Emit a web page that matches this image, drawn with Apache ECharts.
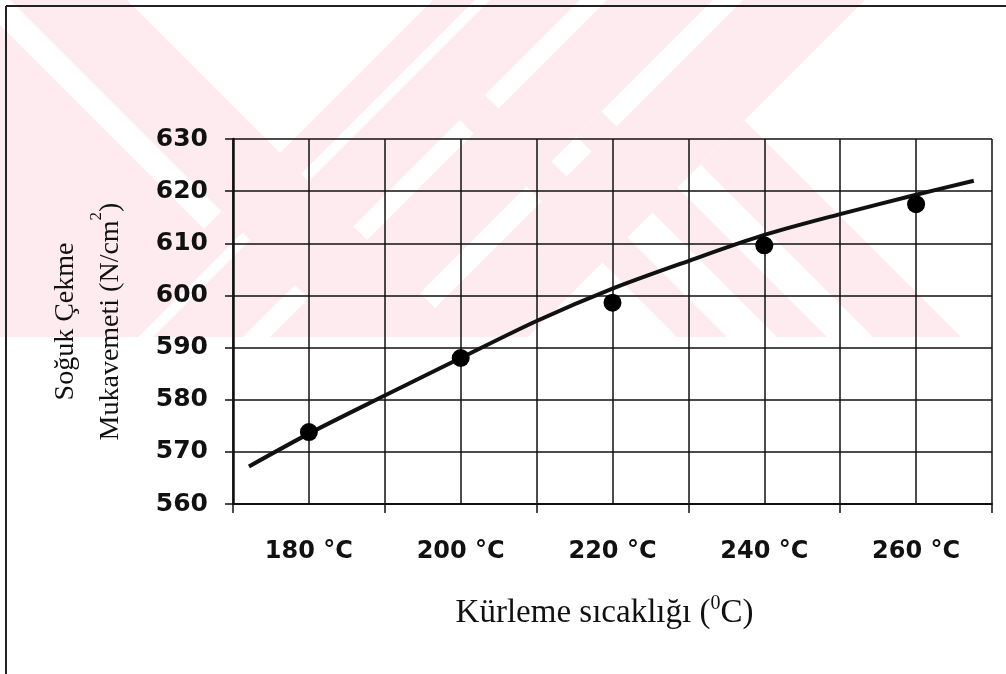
<!DOCTYPE html>
<html>
<head>
<meta charset="utf-8">
<script src="https://cdn.jsdelivr.net/npm/echarts@6/dist/echarts.min.js"></script>
<style>
  html, body { margin: 0; padding: 0; background: #ffffff; }
  #chart { width: 1006px; height: 674px; }
</style>
</head>
<body>
<div id="chart"></div>
<script>
// Curing temperature (°C) and measured cold tensile strength (N/cm²)
const temperatures = [180, 200, 220, 240, 260];
const temperatureLabels = ['180 °C', '200 °C', '220 °C', '240 °C', '260 °C'];
const strength = [573.8, 588.0, 598.6, 609.6, 617.5];

// Trend curve through the measurements
const trendTemps = [172.1, 180, 190, 200, 210, 220, 230, 240, 250, 260, 267.6];
const trendStrength = [567.2, 573.5, 580.8, 588.0, 595.1, 601.3, 606.6, 611.6, 615.6, 619.3, 622.0];

// Strength axis ticks
const yMin = 560, yMax = 630, yStep = 10;
// Temperature scale behind the category labels (one grid cell = 10 °C)
const xMin = 170, xMax = 270, xStep = 10;

const W = 1006, H = 674;
const wmBottom = 337;
const pink = '#fdebef';

// Clip the rectangle [0,W]x[0,wmBottom] by a list of half-planes on x+y or x-y
function clipRegion(limits) {
  let poly = [[0, 0], [W, 0], [W, wmBottom], [0, wmBottom]];
  const fu = (p) => p[0] + p[1];
  const fv = (p) => p[0] - p[1];
  function clip(pts, f, val, keepAbove) {
    const out = [];
    const inside = (p) => keepAbove ? f(p) >= val : f(p) <= val;
    for (let i = 0; i < pts.length; i++) {
      const a = pts[i], b = pts[(i + 1) % pts.length];
      const ia = inside(a), ib = inside(b);
      if (ia) out.push(a);
      if (ia !== ib) {
        const t = (val - f(a)) / (f(b) - f(a));
        out.push([a[0] + t * (b[0] - a[0]), a[1] + t * (b[1] - a[1])]);
      }
    }
    return out;
  }
  limits.forEach(([k, lo, hi]) => {
    const f = k === 'u' ? fu : fv;
    if (lo != null && poly.length) poly = clip(poly, f, lo, true);
    if (hi != null && poly.length) poly = clip(poly, f, hi, false);
  });
  return poly;
}

// Watermark stripes: 'u' = x+y ('/' direction), 'v' = x-y ('\' direction)
const stripes = [
  [['v', null, -25], ['u', null, 475]],
  [['v', 10, 127]],
  [['u', 433, 475]],
  [['u', 490, 580]],
  [['u', 607, 713]],
  [['u', 743, 865]],
  [['v', 340, 390], ['u', 580, null]],
  [['v', 440, 490], ['u', 713, null]],
  [['v', 536, 624], ['u', 865, null]]
];

const watermark = stripes.map((lim) => ({
  type: 'polygon',
  z: -10,
  silent: true,
  shape: { points: clipRegion(lim) },
  style: { fill: pink }
}));

const chart = echarts.init(document.getElementById('chart'), null, { renderer: 'canvas' });

const serif = 'Liberation Serif, Times New Roman, serif';
const sans = 'DejaVu Sans, Arial, sans-serif';

chart.setOption({
  backgroundColor: '#ffffff',
  animation: false,
  graphic: watermark.concat([
    { type: 'line', shape: { x1: 6, y1: 6, x2: W, y2: 6 }, style: { stroke: '#222', lineWidth: 2 } },
    { type: 'line', shape: { x1: 6, y1: 6, x2: 6, y2: H }, style: { stroke: '#222', lineWidth: 2 } }
  ]),
  grid: { left: 233, top: 139, width: 759, height: 365, show: false },
  xAxis: [
    {
      type: 'category',
      data: temperatureLabels,
      boundaryGap: true,
      position: 'bottom',
      axisLine: { lineStyle: { color: '#111', width: 2 } },
      axisTick: { show: true, length: 9, lineStyle: { color: '#111', width: 1.5 } },
      axisLabel: { color: '#111', fontFamily: sans, fontWeight: 'bold', fontSize: 24, margin: 36 },
      splitLine: { show: false },
      name: '{a|Kürleme sıcaklığı (}{s|0}{a|C)}',
      nameLocation: 'middle',
      nameGap: 90,
      nameTextStyle: {
        padding: [0, 16, 0, 0],
        rich: {
          a: { fontFamily: serif, fontSize: 33, color: '#111', lineHeight: 38 },
          s: { fontFamily: serif, fontSize: 20, color: '#111', lineHeight: 38, verticalAlign: 'top' }
        }
      }
    },
    {
      type: 'value',
      min: xMin,
      max: xMax,
      interval: xStep,
      position: 'bottom',
      axisLine: { show: false },
      axisTick: { show: false },
      axisLabel: { show: false },
      splitLine: { show: true, lineStyle: { color: '#111', width: 1.5 } }
    }
  ],
  yAxis: {
    type: 'value',
    min: yMin,
    max: yMax,
    interval: yStep,
    axisLine: { show: true, lineStyle: { color: '#111', width: 2.5 } },
    axisTick: { show: true, length: 8, lineStyle: { color: '#111', width: 1.5 } },
    axisLabel: { color: '#111', fontFamily: sans, fontWeight: 'bold', fontSize: 25, margin: 25 },
    splitLine: { show: true, lineStyle: { color: '#111', width: 1.5 } },
    name: '{a|Soğuk Çekme}\n{a|Mukavemeti (N/cm}{s|2}{a|)}',
    nameLocation: 'middle',
    nameRotate: 90,
    nameGap: 100,
    nameTextStyle: {
      rich: {
        a: { fontFamily: serif, fontSize: 28, color: '#111', lineHeight: 45 },
        s: { fontFamily: serif, fontSize: 17, color: '#111', lineHeight: 30, verticalAlign: 'top' }
      }
    }
  },
  series: [
    {
      name: 'Trend',
      type: 'line',
      xAxisIndex: 1,
      data: trendTemps.map((t, i) => [t, trendStrength[i]]),
      smooth: 0.3,
      showSymbol: false,
      lineStyle: { color: '#111', width: 4 },
      z: 3
    },
    {
      name: 'Soğuk Çekme Mukavemeti',
      type: 'scatter',
      xAxisIndex: 1,
      data: temperatures.map((t, i) => [t, strength[i]]),
      symbol: 'circle',
      symbolSize: 18,
      itemStyle: { color: '#000', opacity: 1 },
      z: 4
    }
  ]
});
</script>
</body>
</html>
